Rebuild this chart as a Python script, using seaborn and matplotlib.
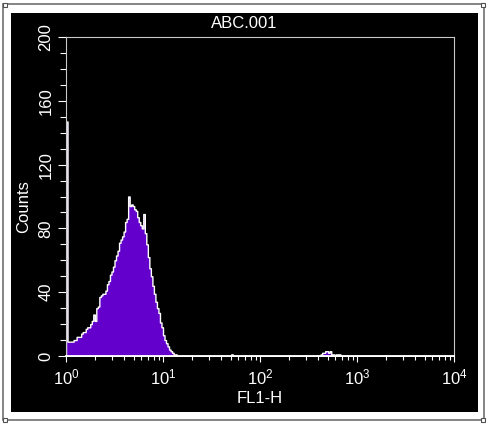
import numpy as np
import pandas as pd
import matplotlib
matplotlib.use('Agg')
import matplotlib.pyplot as plt
from matplotlib.patches import Rectangle
from matplotlib.ticker import MultipleLocator, FixedLocator, NullFormatter, LogFormatterSciNotation
import seaborn as sns

title = 'ABC.001'
x_label = 'FL1-H'
y_label = 'Counts'
n_channels = 256
decades = 4
y_ticks = [0, 40, 80, 120, 160, 200]
x_ticks = [1, 10, 100, 1000, 10000]

# counts of channels 0..72 (main population, channel 0 holds off-scale events)
peak_counts = [147, 9, 9, 9, 9, 10, 10, 12, 12, 12,
               14, 15, 15, 17, 18, 18, 20, 22, 26, 22,
               30, 31, 37, 38, 39, 39, 41, 45, 47, 51,
               53, 56, 60, 63, 66, 71, 73, 75, 78, 84,
               86, 100, 94, 95, 94, 92, 91, 87, 84, 82,
               80, 89, 77, 70, 62, 55, 50, 44, 39, 34,
               30, 27, 21, 18, 13, 10, 8, 6, 4, 3,
               2, 1, 1]
# a few scattered events further up
bump_channels = [109, 168, 169, 170, 171, 172, 173, 174, 175, 176, 178, 179, 180]
bump_counts = [1, 1, 2, 2, 3, 3, 2, 3, 1, 1, 1, 1, 1]

counts = np.zeros(n_channels)
counts[:len(peak_counts)] = peak_counts
counts[bump_channels] = bump_counts
log_edges = np.linspace(0, decades, n_channels + 1)
df = pd.DataFrame({'fl1': 10 ** ((log_edges[:-1] + log_edges[1:]) / 2), 'counts': counts})

W, H = 490, 425
fs = 12
plt.rcParams['font.family'] = ['Liberation Sans', 'DejaVu Sans']
fig = plt.figure(figsize=(W / 100, H / 100), dpi=100, facecolor='white')

# window frame + black panel
fig.patches.append(Rectangle((3 / W, 5 / H), 481 / W, 416 / H, transform=fig.transFigure,
                             fill=False, edgecolor='#707070', lw=1.2, zorder=-2))
fig.patches.append(Rectangle((11 / W, 13 / H), 467 / W, 399 / H, transform=fig.transFigure,
                             facecolor='black', edgecolor='none', zorder=-1))
for cx, cy in [(3, 3), (481, 3), (481, 418), (3, 418)]:
    fig.patches.append(Rectangle((cx / W, (H - cy - 4) / H), 4 / W, 4 / H, transform=fig.transFigure,
                                 facecolor='white', edgecolor='#505050', lw=0.8, zorder=-1))

ax = fig.add_axes([66 / W, 69 / H, 388 / W, 319 / H])
ax.set_facecolor('black')
sns.histplot(data=df, x='fl1', weights='counts', bins=list(log_edges), log_scale=True, element='step',
             fill=True, color='#6400cc', edgecolor='white', linewidth=1.0, alpha=1, ax=ax)

ax.set_xlim(1, 10000)
ax.set_ylim(0, 200)
ax.xaxis.set_major_locator(FixedLocator(x_ticks))
ax.xaxis.set_major_formatter(LogFormatterSciNotation())
ax.xaxis.set_minor_formatter(NullFormatter())
ax.yaxis.set_major_locator(FixedLocator(y_ticks))
ax.yaxis.set_minor_locator(MultipleLocator(10))

ax.tick_params(which='both', colors='white', labelcolor='white', labelsize=fs, width=0.8)
ax.tick_params(axis='x', which='major', length=4, pad=4)
ax.tick_params(axis='x', which='minor', length=3)
ax.tick_params(axis='y', which='major', length=6, pad=3)
ax.tick_params(axis='y', which='minor', length=4)
for lbl in ax.get_yticklabels():
    lbl.set_rotation(90)
    lbl.set_va('center')

for side in ['top', 'right', 'left']:
    ax.spines[side].set_color('#c8c8c8')
    ax.spines[side].set_linewidth(0.8)
ax.spines['bottom'].set_color('white')
ax.spines['bottom'].set_linewidth(1.3)

ax.set_xlabel(x_label, color='white', fontsize=fs, labelpad=3)
ax.set_ylabel(y_label, color='white', fontsize=fs)
ax.yaxis.set_label_coords(-0.09, 0.47)
fig.text(244 / W, 1 - 24 / H, title, ha='center', va='center', color='white', fontsize=fs)

fig.savefig('out.png', dpi=100, facecolor='white')
